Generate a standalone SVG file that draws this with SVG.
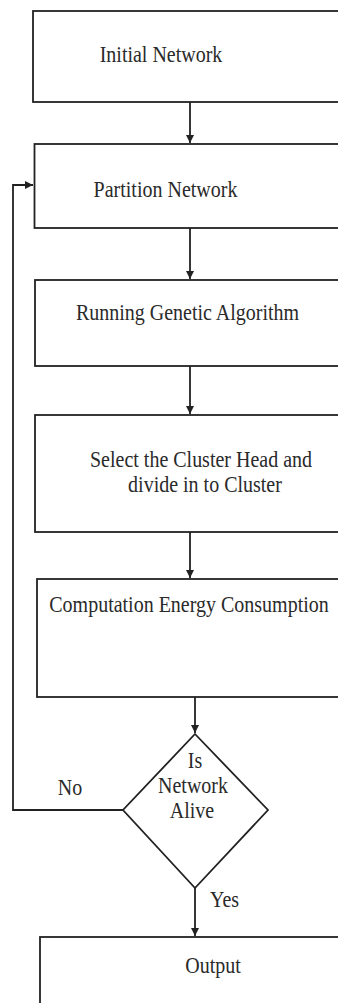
<svg xmlns="http://www.w3.org/2000/svg" width="338" height="1003" viewBox="0 0 338 1003">
<style>
.box{fill:#fff;stroke:#222;stroke-width:1.8}
.t{font-family:"Liberation Serif",Tinos,"Times New Roman","Nimbus Roman","DejaVu Serif",serif;font-size:20px;fill:#2a2a2a;text-anchor:middle}
.c{fill:none;stroke:#222;stroke-width:1.8}
</style>
<defs>
<marker id="ah" markerUnits="userSpaceOnUse" markerWidth="8" markerHeight="10" refX="8" refY="4" orient="auto">
<path d="M0,0 L8,4 L0,8 Z" fill="#222"/>
</marker>
</defs>
<rect width="338" height="1003" fill="#fff"/>
<g id="connectors">
<path class="c" d="M190,102 V143" marker-end="url(#ah)"/>
<path class="c" d="M190,228 V279" marker-end="url(#ah)"/>
<path class="c" d="M190,366 V414" marker-end="url(#ah)"/>
<path class="c" d="M190,532 V578" marker-end="url(#ah)"/>
<path class="c" d="M195,697 V733" marker-end="url(#ah)"/>
<path class="c" d="M195,888 V936" marker-end="url(#ah)"/>
<path class="c" d="M123,810 H13 V185 H33" marker-end="url(#ah)"/>
<text class="t" transform="translate(70,795) scale(1,1.12)">No</text>
<text class="t" transform="translate(224.5,907) scale(1,1.12)">Yes</text>
</g>
<g id="n1">
<rect class="box" x="33" y="11" width="320" height="91"/>
<text class="t" transform="translate(161,62) scale(1,1.12)">Initial Network</text>
</g>
<g id="n2">
<rect class="box" x="34.5" y="144" width="320" height="84"/>
<text class="t" transform="translate(165.5,197) scale(1,1.12)">Partition Network</text>
</g>
<g id="n3">
<rect class="box" x="35" y="280" width="320" height="86"/>
<text class="t" transform="translate(187.5,320) scale(1,1.12)">Running Genetic Algorithm</text>
</g>
<g id="n4">
<rect class="box" x="35" y="415" width="320" height="117"/>
<text class="t" transform="translate(201,467) scale(1,1.12)">Select the Cluster Head and</text>
<text class="t" transform="translate(205,492) scale(1,1.12)">divide in to Cluster</text>
</g>
<g id="n5">
<rect class="box" x="37" y="579" width="320" height="118"/>
<text class="t" transform="translate(189,612) scale(1,1.12)">Computation Energy Consumption</text>
</g>
<g id="n6">
<path class="box" d="M195,734 L268,810 L195,888 L123,810 Z"/>
<text class="t" transform="translate(195,768) scale(1,1.12)">Is</text>
<text class="t" transform="translate(193,793) scale(1,1.12)">Network</text>
<text class="t" transform="translate(192,818) scale(1,1.12)">Alive</text>
</g>
<g id="n7">
<rect class="box" x="40" y="937" width="320" height="90"/>
<text class="t" transform="translate(213,973) scale(1,1.12)">Output</text>
</g>
</svg>
